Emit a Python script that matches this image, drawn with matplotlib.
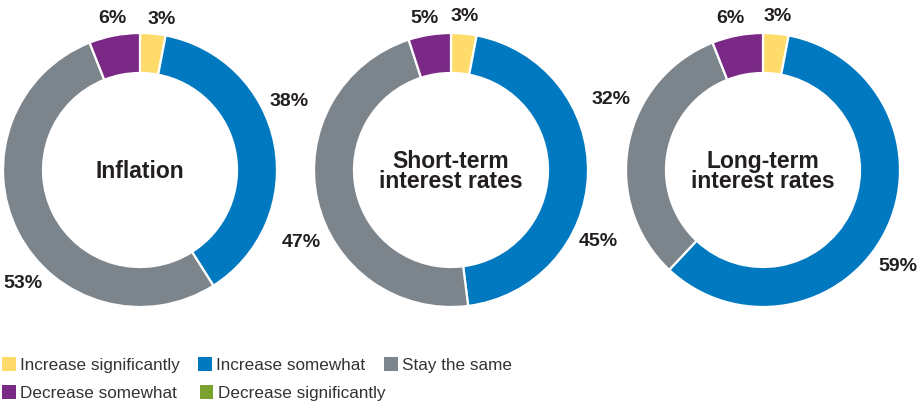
import matplotlib
matplotlib.use("Agg")
import matplotlib.pyplot as plt
from matplotlib.patches import Patch
import numpy as np

plt.rcParams['font.family'] = ['Liberation Sans', 'DejaVu Sans']

# data
categories = ["Increase significantly", "Increase somewhat", "Stay the same",
              "Decrease somewhat", "Decrease significantly"]
colors = ["#FEDB6B", "#0079C1", "#7D858C", "#7A2A86", "#7BA12E"]

titles = ["Inflation", "Short-term\ninterest rates", "Long-term\ninterest rates"]
inflation = [3, 38, 53, 6, 0]
short_term = [3, 45, 47, 5, 0]
long_term = [3, 59, 32, 6, 0]
series = [inflation, short_term, long_term]

# layout (pixel space, y up)
W, H = 924, 408
centers = [(140, 238), (451, 238), (763, 238)]
R_OUT, RING = 137, 40
# where each percentage label sits: (angle deg, distance px) per non-zero slice
label_pos = [
    [(82, 152), (24.5, 164), (224, 163), (100.5, 154)],
    [(85, 154), (-26, 164), (206, 166), (100, 154)],
    [(84.7, 154), (-35.7, 166), (155, 168), (102, 155)],
]
TXT = "#231F20"

fig = plt.figure(figsize=(W / 100, H / 100), dpi=100)
ax = fig.add_axes([0, 0, 1, 1])

for vals, title, (cx, cy), lpos in zip(series, titles, centers, label_pos):
    keep = [i for i, v in enumerate(vals) if v > 0]
    ax.pie([vals[i] for i in keep], colors=[colors[i] for i in keep],
           center=(cx, cy), radius=R_OUT, startangle=90, counterclock=False,
           wedgeprops=dict(width=RING, edgecolor="white", linewidth=1.6))
    ax.text(cx, cy - 1.5, title, ha="center", va="center", fontsize=16.5,
            fontweight="bold", color=TXT, linespacing=0.78)
    for i, (ang, dist) in zip(keep, lpos):
        a = np.deg2rad(ang)
        ax.text(cx + dist * np.cos(a), cy + dist * np.sin(a), f"{vals[i]}%",
                ha="center", va="center", fontsize=14, fontweight="bold",
                color=TXT)

ax.set_xlim(0, W)
ax.set_ylim(0, H)
ax.set_aspect("equal")
ax.axis("off")

# legend: two rows, each one flows left to right
rows = [([0, 1, 2], 0.126, 1.1), ([3, 4], 0.057, 1.35)]
for idx, ytop, colsp in rows:
    handles = [Patch(facecolor=colors[i], edgecolor="none", label=categories[i])
               for i in idx]
    leg = fig.legend(handles=handles, ncol=len(idx), loc="upper left",
                     bbox_to_anchor=(0.002, ytop), frameon=False,
                     fontsize=12.3, handlelength=0.8, handleheight=0.95,
                     handletextpad=0.25, columnspacing=colsp,
                     borderpad=0, borderaxespad=0)
    for t in leg.get_texts():
        t.set_color("#333333")

fig.savefig("out.png", dpi=100)
